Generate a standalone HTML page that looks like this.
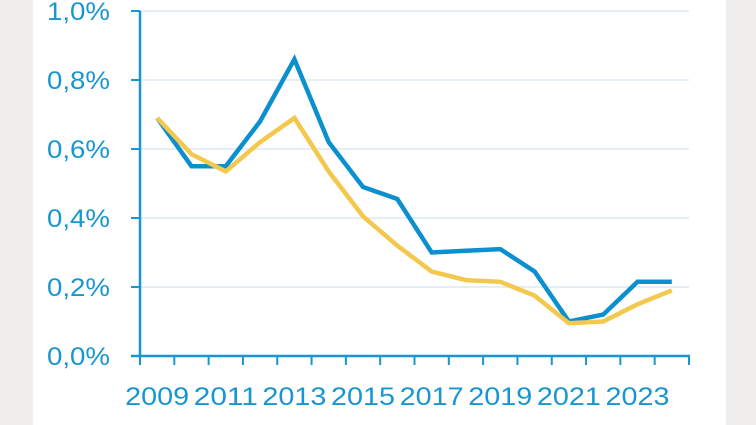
<!DOCTYPE html>
<html><head><meta charset="utf-8"><style>
body{margin:0;width:756px;height:425px;background:#efeeec;overflow:hidden}
svg{display:block}
text{font-family:"Liberation Sans",sans-serif;fill:#1796d2;font-size:25px}
</style></head><body>
<svg width="756" height="425">
<rect x="33" y="0" width="693" height="425" fill="#fff"/>
<g id="grid"></g><g id="axes"></g><g id="lines"></g>
</svg>
<script>
const years=[2009,2010,2011,2012,2013,2014,2015,2016,2017,2018,2019,2020,2021,2022,2023,2024];
const blueVals=[0.69,0.55,0.55,0.68,0.86,0.62,0.49,0.455,0.30,0.305,0.31,0.245,0.10,0.12,0.215,0.215];
const yellowVals=[0.69,0.585,0.535,0.62,0.69,0.535,0.405,0.32,0.245,0.22,0.215,0.175,0.095,0.10,0.15,0.19];
const yTicks=[0,0.2,0.4,0.6,0.8,1.0];
const yTickLabels=["0,0%","0,2%","0,4%","0,6%","0,8%","1,0%"];
const xLabels=["2009","2011","2013","2015","2017","2019","2021","2023"];
const NS="http://www.w3.org/2000/svg";
const x0=140,x1=689,yB=356,yT=11;
const step=(x1-x0)/years.length;
const X=yr=>x0+step*(yr-years[0]+0.5);
const Y=v=>yB-(yB-yT)*v/1.0;
function mk(tag,attrs,parent){const e=document.createElementNS(NS,tag);for(const k in attrs)e.setAttribute(k,attrs[k]);document.getElementById(parent).appendChild(e);return e;}
yTicks.forEach((v,i)=>{
  if(v>0){const g=mk('line',{x1:x0,x2:x1,y1:Y(v),y2:Y(v),stroke:'#e5edf5','stroke-width':2},'grid');
  
  }
  const t=mk('line',{x1:x0-9,x2:x0,y1:Y(v),y2:Y(v),stroke:'#1796d2','stroke-width':2},'axes');
  
  
  const l=mk('text',{x:110,y:Y(v)+9,'text-anchor':'end','textLength':63,'lengthAdjust':'spacingAndGlyphs'},'axes');
  l.textContent=yTickLabels[i];
  
  
});
const ya=mk('line',{x1:x0,x2:x0,y1:yT,y2:yB+1,stroke:'#1796d2','stroke-width':2.5},'axes');


const xa=mk('line',{x1:x0-9,x2:x1+1,y1:yB,y2:yB,stroke:'#1796d2','stroke-width':2.5},'axes');


for(let i=0;i<=years.length;i++){
  const t=mk('line',{x1:x0+step*i,x2:x0+step*i,y1:yB,y2:yB+9,stroke:'#1796d2','stroke-width':2},'axes');
  
  
}
xLabels.forEach(s=>{
  const l=mk('text',{x:X(+s),y:405,'text-anchor':'middle','textLength':64,'lengthAdjust':'spacingAndGlyphs'},'axes');
  l.textContent=s;
  
  
});
function series(vals,color,name){
  const d=vals.map((v,i)=>(i?'L':'M')+X(years[i]).toFixed(1)+','+Y(v).toFixed(1)).join(' ');
  const p=mk('path',{d:d,fill:'none',stroke:color,'stroke-width':4.5,'stroke-linejoin':'miter'},'lines');
  
  
}
series(blueVals,'#0a8fcf','blue-series-line');
series(yellowVals,'#f3c84c','yellow-series-line');
</script>
</body></html>
